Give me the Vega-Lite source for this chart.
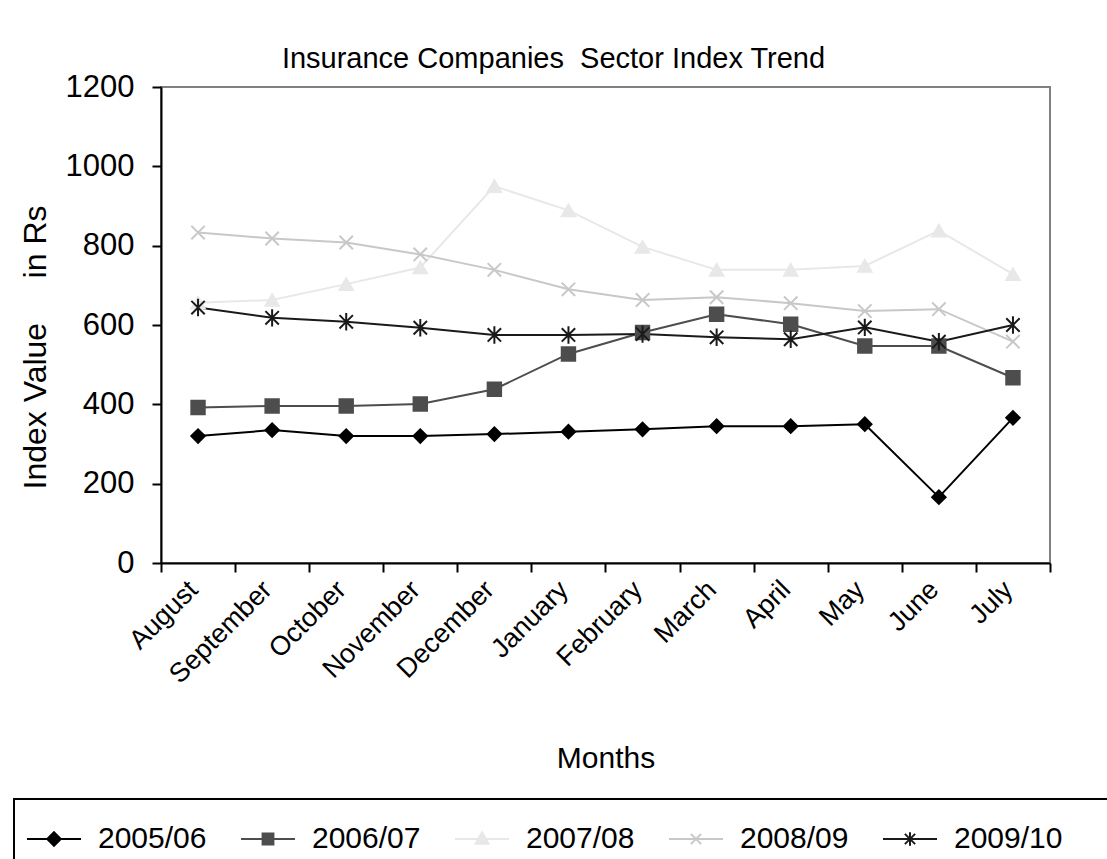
{
  "$schema": "https://vega.github.io/schema/vega-lite/v6.json",
  "autosize": {"type": "none"},
  "width": 889,
  "height": 476,
  "padding": {"left": 161, "top": 87, "right": 57, "bottom": 296},
  "background": "white",
  "title": {
    "text": "Insurance Companies\u00a0\u00a0Sector Index Trend",
    "font": "Liberation Sans",
    "fontSize": 29,
    "fontWeight": "normal",
    "color": "black",
    "anchor": "middle",
    "dx": -52,
    "offset": -3
  },
  "config": {
    "view": {"stroke": "#808080", "strokeWidth": 2},
    "font": "Liberation Sans"
  },
  "data": {
    "values": [
      {"month": "August", "series": "2005/06", "value": 320},
      {"month": "September", "series": "2005/06", "value": 335},
      {"month": "October", "series": "2005/06", "value": 320},
      {"month": "November", "series": "2005/06", "value": 320},
      {"month": "December", "series": "2005/06", "value": 325},
      {"month": "January", "series": "2005/06", "value": 331},
      {"month": "February", "series": "2005/06", "value": 337},
      {"month": "March", "series": "2005/06", "value": 345},
      {"month": "April", "series": "2005/06", "value": 345},
      {"month": "May", "series": "2005/06", "value": 350},
      {"month": "June", "series": "2005/06", "value": 166},
      {"month": "July", "series": "2005/06", "value": 366},
      {"month": "August", "series": "2006/07", "value": 392},
      {"month": "September", "series": "2006/07", "value": 396},
      {"month": "October", "series": "2006/07", "value": 396},
      {"month": "November", "series": "2006/07", "value": 401},
      {"month": "December", "series": "2006/07", "value": 438},
      {"month": "January", "series": "2006/07", "value": 527},
      {"month": "February", "series": "2006/07", "value": 581},
      {"month": "March", "series": "2006/07", "value": 627},
      {"month": "April", "series": "2006/07", "value": 602},
      {"month": "May", "series": "2006/07", "value": 547},
      {"month": "June", "series": "2006/07", "value": 547},
      {"month": "July", "series": "2006/07", "value": 467},
      {"month": "August", "series": "2007/08", "value": 656},
      {"month": "September", "series": "2007/08", "value": 663},
      {"month": "October", "series": "2007/08", "value": 703},
      {"month": "November", "series": "2007/08", "value": 745},
      {"month": "December", "series": "2007/08", "value": 950},
      {"month": "January", "series": "2007/08", "value": 889},
      {"month": "February", "series": "2007/08", "value": 797},
      {"month": "March", "series": "2007/08", "value": 739},
      {"month": "April", "series": "2007/08", "value": 739},
      {"month": "May", "series": "2007/08", "value": 749},
      {"month": "June", "series": "2007/08", "value": 838},
      {"month": "July", "series": "2007/08", "value": 728},
      {"month": "August", "series": "2008/09", "value": 833},
      {"month": "September", "series": "2008/09", "value": 818},
      {"month": "October", "series": "2008/09", "value": 808},
      {"month": "November", "series": "2008/09", "value": 778},
      {"month": "December", "series": "2008/09", "value": 739},
      {"month": "January", "series": "2008/09", "value": 690},
      {"month": "February", "series": "2008/09", "value": 663},
      {"month": "March", "series": "2008/09", "value": 670},
      {"month": "April", "series": "2008/09", "value": 655},
      {"month": "May", "series": "2008/09", "value": 635},
      {"month": "June", "series": "2008/09", "value": 640},
      {"month": "July", "series": "2008/09", "value": 558},
      {"month": "August", "series": "2009/10", "value": 644},
      {"month": "September", "series": "2009/10", "value": 618},
      {"month": "October", "series": "2009/10", "value": 608},
      {"month": "November", "series": "2009/10", "value": 593},
      {"month": "December", "series": "2009/10", "value": 575},
      {"month": "January", "series": "2009/10", "value": 575},
      {"month": "February", "series": "2009/10", "value": 577},
      {"month": "March", "series": "2009/10", "value": 569},
      {"month": "April", "series": "2009/10", "value": 564},
      {"month": "May", "series": "2009/10", "value": 594},
      {"month": "June", "series": "2009/10", "value": 558},
      {"month": "July", "series": "2009/10", "value": 600}
    ]
  },
  "encoding": {
    "x": {
      "field": "month",
      "type": "ordinal",
      "bandPosition": 0.5,
      "sort": ["August", "September", "October", "November", "December", "January", "February", "March", "April", "May", "June", "July"],
      "scale": {"type": "band", "paddingInner": 0, "paddingOuter": 0},
      "axis": {
        "title": "Months",
        "titleFont": "Liberation Sans",
        "titleFontSize": 30,
        "titleFontWeight": "normal",
        "titleColor": "black",
        "titleBaseline": "middle",
        "titleY": 195,
        "labelAngle": -45,
        "labelFont": "Liberation Sans",
        "labelFontSize": 27,
        "labelColor": "black",
        "labelPadding": 4,
        "labelOffset": -14,
        "tickBand": "extent",
        "tickColor": "black",
        "tickWidth": 2,
        "tickSize": 9,
        "domainColor": "black",
        "domainWidth": 2,
        "grid": false
      }
    },
    "y": {
      "field": "value",
      "type": "quantitative",
      "scale": {"domain": [0, 1200], "nice": false},
      "axis": {
        "title": "Index Value\u00a0\u00a0\u00a0\u00a0\u00a0in Rs",
        "titleFont": "Liberation Sans",
        "titleFontSize": 32,
        "titleFontWeight": "normal",
        "titleColor": "black",
        "titleBaseline": "middle",
        "titleAngle": -90,
        "titleX": -126,
        "titleY": 260,
        "values": [0, 200, 400, 600, 800, 1000, 1200],
        "format": "d",
        "labelFont": "Liberation Sans",
        "labelFontSize": 31,
        "labelColor": "black",
        "labelPadding": 18,
        "tickColor": "black",
        "tickWidth": 2,
        "tickSize": 9,
        "domainColor": "black",
        "domainWidth": 2,
        "grid": false
      }
    }
  },
  "layer": [
    {
      "mark": {"type": "line", "strokeWidth": 2},
      "encoding": {
        "color": {
          "field": "series",
          "type": "nominal",
          "scale": {
            "domain": ["2005/06", "2006/07", "2007/08", "2008/09", "2009/10"],
            "range": ["#000000", "#4d4d4d", "#e8e8e8", "#c8c8c8", "#1a1a1a"]
          },
          "legend": {
            "orient": "none",
            "legendX": -147,
            "legendY": 712,
            "direction": "horizontal",
            "columns": 5,
            "title": "\u00a0",
            "titleOrient": "right",
            "titleFontSize": 30,
            "titlePadding": 45,
            "padding": 12,
            "strokeColor": "black",
            "symbolSize": 2916,
            "symbolStrokeWidth": 2,
            "labelFont": "Liberation Sans",
            "labelFontSize": 30,
            "labelColor": "black",
            "labelOffset": 16,
            "columnPadding": 30,
            "encode": {
              "legend": {
                "update": {"strokeWidth": {"value": 2}}
              },
              "symbols": {
                "update": {
                  "shape": {"signal": "datum.value === '2005/06' ? 'M-1,0L1,0M0,-0.25L0.25,0L0,0.25L-0.25,0Z' : datum.value === '2006/07' ? 'M-1,0L1,0M-0.2,-0.2L0.2,-0.2L0.2,0.2L-0.2,0.2Z' : datum.value === '2007/08' ? 'M-1,0L1,0M0,-0.25L0.24,0.18L-0.24,0.18Z' : datum.value === '2008/09' ? 'M-1,0L1,0M-0.19,-0.19L0.19,0.19M-0.19,0.19L0.19,-0.19' : 'M-1,0L1,0M-0.19,-0.19L0.19,0.19M-0.19,0.19L0.19,-0.19M0,-0.25L0,0.25'"},
                  "fill": {"scale": "color", "field": "value"},
                  "stroke": {"scale": "color", "field": "value"},
                  "opacity": {"value": 1},
                  "strokeWidth": {"value": 2}
                }
              }
            }
          }
        }
      }
    },
    {
      "transform": [{"calculate": "datum.series", "as": "marker"}],
      "mark": {"type": "point", "filled": true, "opacity": 1, "strokeWidth": 2, "size": 180},
      "encoding": {
        "fill": {
          "field": "marker",
          "type": "nominal",
          "scale": {"range": ["#000000", "#4d4d4d", "#e8e8e8", "#c8c8c8", "#1a1a1a"]},
          "legend": null
        },
        "stroke": {
          "field": "marker",
          "type": "nominal",
          "scale": {"range": ["#000000", "#4d4d4d", "#e8e8e8", "#c8c8c8", "#1a1a1a"]},
          "legend": null
        },
        "shape": {
          "field": "marker",
          "type": "nominal",
          "scale": {"range": ["diamond", "square", "triangle-up", "M-1,-1L1,1M-1,1L1,-1", "M-1,-1L1,1M-1,1L1,-1M0,-1.3L0,1.3"]},
          "legend": null
        }
      }
    }
  ]
}
